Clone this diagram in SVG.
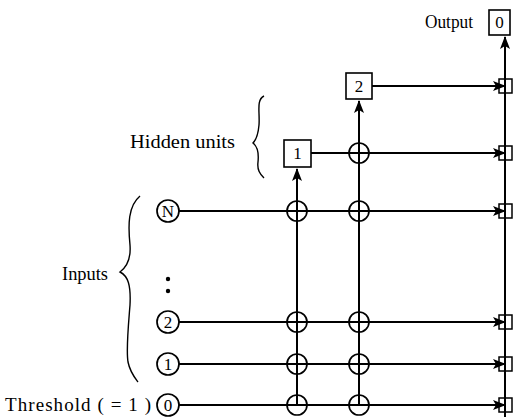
<svg xmlns="http://www.w3.org/2000/svg" width="519" height="417" viewBox="0 0 519 417">
<style>
.t{font-family:"Liberation Serif","Times New Roman",serif;fill:#000}
.lbl{font-size:19px}
.nl{font-size:17px;text-anchor:middle}
.ln{stroke:#000;stroke-width:2;fill:none}
.bx{stroke:#000;stroke-width:1.6;fill:#fff}
.jc{stroke:#000;stroke-width:1.7;fill:none}
.sq{stroke:#000;stroke-width:1.5;fill:none}
.br{stroke:#000;stroke-width:1.4;fill:none}
</style>
<defs>
<marker id="ah" viewBox="0 0 13 10" refX="12" refY="5" markerWidth="13" markerHeight="10" markerUnits="userSpaceOnUse" orient="auto">
<path d="M0,0 L13,5 L0,10 L3,5 Z" fill="#000"/>
</marker>
</defs>
<rect width="519" height="417" fill="#fff"/>
<g id="connectors">
<line class="ln" x1="505" y1="417" x2="505" y2="37" marker-end="url(#ah)"/>
<line class="ln" x1="297" y1="405" x2="297" y2="169" marker-end="url(#ah)"/>
<line class="ln" x1="359" y1="405" x2="359" y2="101" marker-end="url(#ah)"/>
<line class="ln" x1="372" y1="86" x2="505" y2="86" marker-end="url(#ah)"/>
<line class="ln" x1="311" y1="153" x2="505" y2="153" marker-end="url(#ah)"/>
<line class="ln" x1="179" y1="211" x2="505" y2="211" marker-end="url(#ah)"/>
<line class="ln" x1="179" y1="322" x2="505" y2="322" marker-end="url(#ah)"/>
<line class="ln" x1="179" y1="364" x2="505" y2="364" marker-end="url(#ah)"/>
<line class="ln" x1="179" y1="405" x2="505" y2="405" marker-end="url(#ah)"/>
<circle class="jc" cx="359" cy="153" r="10"/>
<circle class="jc" cx="297" cy="211" r="10"/>
<circle class="jc" cx="359" cy="211" r="10"/>
<circle class="jc" cx="297" cy="322" r="10"/>
<circle class="jc" cx="359" cy="322" r="10"/>
<circle class="jc" cx="297" cy="364" r="10"/>
<circle class="jc" cx="359" cy="364" r="10"/>
<circle class="jc" cx="297" cy="405" r="10"/>
<circle class="jc" cx="359" cy="405" r="10"/>
<rect class="sq" x="499" y="79" width="13" height="14"/>
<rect class="sq" x="499" y="146" width="13" height="14"/>
<rect class="sq" x="499" y="204" width="13" height="14"/>
<rect class="sq" x="499" y="315" width="13" height="14"/>
<rect class="sq" x="499" y="357" width="13" height="14"/>
<rect class="sq" x="499" y="398" width="13" height="14"/>
</g>
<g id="output">
<text class="t lbl" x="425" y="28" textLength="48" lengthAdjust="spacingAndGlyphs">Output</text>
<rect class="bx" x="489" y="10" width="21" height="25"/>
<text class="t nl" x="499.5" y="28">0</text>
</g>
<g id="hidden2">
<rect class="bx" x="346" y="73" width="26" height="26"/>
<text class="t nl" x="359" y="92">2</text>
</g>
<g id="hidden1">
<rect class="bx" x="284" y="140" width="27" height="27"/>
<text class="t nl" x="297.5" y="159">1</text>
</g>
<g id="hiddenLabel">
<text class="t lbl" x="130" y="148" textLength="105" lengthAdjust="spacingAndGlyphs">Hidden units</text>
<path class="br" d="M264,96 C256,100 260,112 259,125 C258,136 256,140 253,143 C257,146 259,152 258,162 C257,170 260,174 264,178"/>
</g>
<g id="inputsLabel">
<text class="t lbl" x="62" y="280" textLength="46" lengthAdjust="spacingAndGlyphs">Inputs</text>
<path class="br" d="M140,196 C128,206 128,225 130,245 C131,258 128,266 120,272 C128,276 131,285 130,305 C128,330 126,350 128,362 C130,372 135,378 138,382"/>
</g>
<g id="inputN">
<circle class="jc" cx="168" cy="211" r="11"/>
<text class="t nl" x="168" y="217">N</text>
</g>
<g id="dots">
<circle cx="168" cy="279" r="2.2" fill="#000"/>
<circle cx="168" cy="291" r="2.2" fill="#000"/>
</g>
<g id="input2">
<circle class="jc" cx="168" cy="322" r="11"/>
<text class="t nl" x="168" y="328">2</text>
</g>
<g id="input1">
<circle class="jc" cx="168" cy="364" r="11"/>
<text class="t nl" x="168" y="370">1</text>
</g>
<g id="threshold">
<text class="t lbl" x="5" y="411" textLength="146" lengthAdjust="spacing">Threshold ( = 1 )</text>
<circle class="jc" cx="168" cy="405" r="11"/>
<text class="t nl" x="168" y="411">0</text>
</g>
</svg>
